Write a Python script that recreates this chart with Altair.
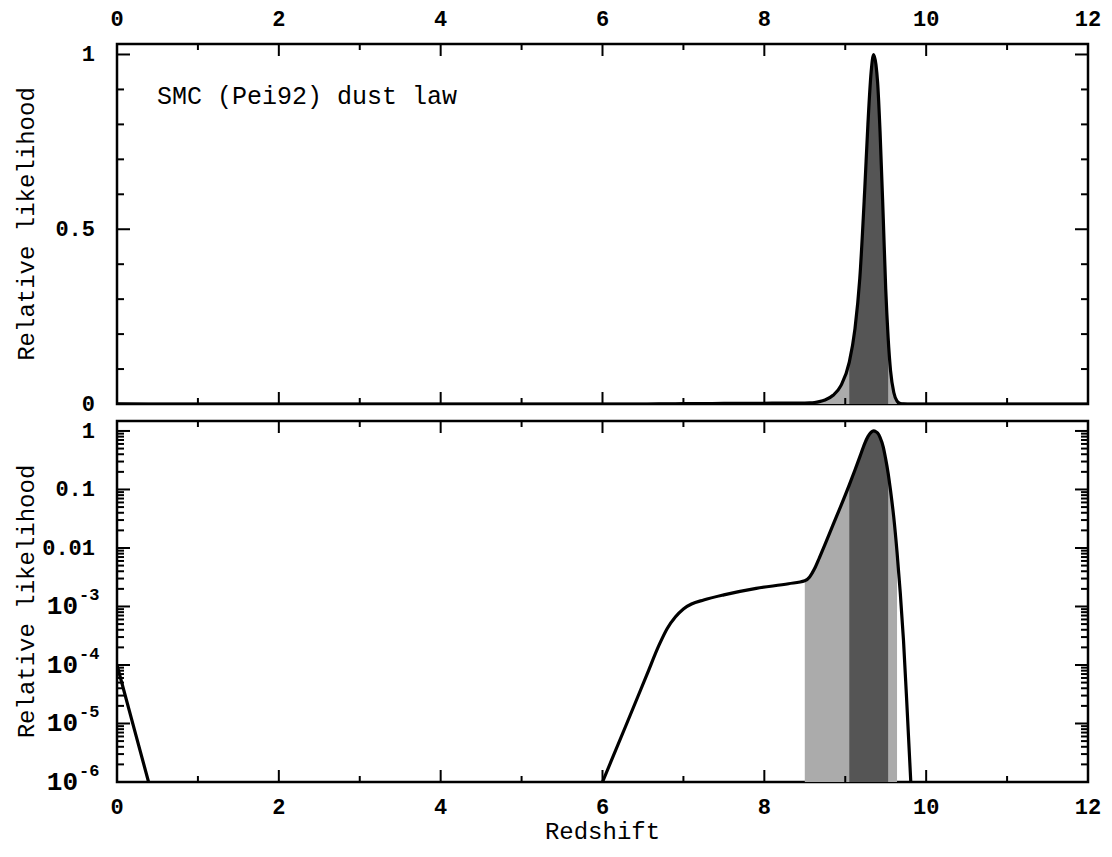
import altair as alt
import pandas as pd

# ---------------- data ----------------
z_vals = [0.00, 0.39, 0.975, 2.00, 4.00, 5.70, 6.00, 6.30, 6.55, 6.70,
          6.80, 6.90, 7.00, 7.10, 7.25, 7.50, 7.90, 8.30, 8.50, 8.56,
          8.62, 8.68, 8.75, 8.85, 8.95, 9.05, 9.12, 9.18, 9.24, 9.28,
          9.32, 9.35, 9.38, 9.40, 9.43, 9.47, 9.50, 9.53, 9.56, 9.60,
          9.64, 9.68, 9.72, 9.77, 9.81, 9.88, 10.00, 12.00]
L_vals = [1.0e-4, 1.0e-6, 1.0e-9, 1.0e-9, 1.0e-9, 1.0e-7, 1.0e-6, 1.0e-5, 6.9e-5, 2.2e-4,
          4.2e-4, 6.6e-4, 9.1e-4, 1.1e-3, 1.29e-3, 1.58e-3, 2.04e-3, 2.45e-3, 2.75e-3, 3.2e-3,
          4.4e-3, 6.8e-3, 0.0115, 0.025, 0.054, 0.12, 0.215, 0.36, 0.61, 0.80,
          0.95, 1.00, 0.97, 0.92, 0.78, 0.53, 0.33, 0.19, 0.095, 0.033,
          0.0085, 1.7e-3, 2.6e-4, 1.26e-5, 1.0e-6, 1.0e-8, 1.0e-9, 1.0e-9]

light_band = [8.50, 9.64]
dark_band = [9.05, 9.53]

x_major = [0, 2, 4, 6, 8, 10, 12]
x_major_labels = ["0", "2", "4", "6", "8", "10", "12"]
x_minor = [1, 3, 5, 7, 9, 11]

lin_major = [0, 0.5, 1]
lin_major_labels = ["0", "0.5", "1"]
lin_minor = [0.1, 0.2, 0.3, 0.4, 0.6, 0.7, 0.8, 0.9]

log_major = [1, 0.1, 0.01, 1e-3, 1e-4, 1e-5, 1e-6]
log_plain_vals = [1, 0.1, 0.01]
log_plain_labels = ["1", "0.1", "0.01"]
log_exp_vals = [1e-3, 1e-4, 1e-5, 1e-6]
log_exp_labels = ["-3", "-4", "-5", "-6"]
log_minor_mant = [2, 3, 4, 5, 6, 7, 8, 9]
log_minor_exp = [-6, -5, -4, -3, -2, -1]
log_minor = [m * 10.0 ** e for e in log_minor_exp for m in log_minor_mant]

Y_TITLE = "Relative likelihood"
X_TITLE = "Redshift"
NOTE = "SMC (Pei92) dust law"

# ---------------- style ----------------
FONT = "Liberation Mono"
LIGHT = "#ababab"
DARK = "#555555"
W = 971
H1 = 360
H2 = 361

curve = pd.DataFrame({"z": z_vals, "L": L_vals})

xs = alt.Scale(domain=[0, 12], nice=False, zero=False)
ys_lin = alt.Scale(domain=[0, 1.03], nice=False, zero=False)
ys_log = alt.Scale(type="log", domain=[1e-6, 1.48], nice=False)


def curve_layers(ys, H):
    base = alt.Chart(curve)
    X = alt.X("z:Q", scale=xs, axis=None)
    Y = alt.Y("L:Q", scale=ys, axis=None, stack=None)
    light = base.transform_filter(
        f"datum.z >= {light_band[0]} && datum.z <= {light_band[1]}"
    ).mark_area(color=LIGHT, interpolate="monotone", clip=True).encode(
        x=X, y=Y, y2=alt.value(H))
    dark = base.transform_filter(
        f"datum.z >= {dark_band[0]} && datum.z <= {dark_band[1]}"
    ).mark_area(color=DARK, interpolate="monotone", clip=True).encode(
        x=X, y=Y, y2=alt.value(H))
    line = base.mark_line(color="black", strokeWidth=3.2, interpolate="monotone",
                          clip=True).encode(x=X, y=Y)
    return [light, dark, line]


def x_ticks(vals, length, H):
    d = pd.DataFrame({"v": vals})
    X = alt.X("v:Q", scale=xs, axis=None)
    b = alt.Chart(d).mark_rule(color="black", strokeWidth=2).encode(
        x=X, y=alt.value(H), y2=alt.value(H - length))
    t = alt.Chart(d).mark_rule(color="black", strokeWidth=2).encode(
        x=X, y=alt.value(0), y2=alt.value(length))
    return [b, t]


def y_ticks(vals, length, ys):
    d = pd.DataFrame({"v": vals})
    Y = alt.Y("v:Q", scale=ys, axis=None)
    l = alt.Chart(d).mark_rule(color="black", strokeWidth=2).encode(
        y=Y, x=alt.value(0), x2=alt.value(length))
    r = alt.Chart(d).mark_rule(color="black", strokeWidth=2).encode(
        y=Y, x=alt.value(W), x2=alt.value(W - length))
    return [l, r]


def x_labels(ypix):
    d = pd.DataFrame({"v": x_major, "t": x_major_labels})
    return alt.Chart(d).mark_text(font=FONT, fontSize=22, fontWeight="bold",
                                  align="center", baseline="alphabetic").encode(
        x=alt.X("v:Q", scale=xs, axis=None), y=alt.value(ypix), text="t:N")


def y_title(H):
    d = pd.DataFrame({"t": [Y_TITLE]})
    return alt.Chart(d).mark_text(font=FONT, fontSize=24, angle=270,
                                  align="center", baseline="middle").encode(
        x=alt.value(-90), y=alt.value(H / 2), text="t:N")


# ---------------- top panel (linear) ----------------
top_lab = alt.Chart(pd.DataFrame({"v": lin_major, "t": lin_major_labels})).mark_text(
    font=FONT, fontSize=22, fontWeight="bold", align="right", baseline="middle").encode(
    y=alt.Y("v:Q", scale=ys_lin, axis=None), x=alt.value(-22), text="t:N")
note = alt.Chart(pd.DataFrame({"t": [NOTE]})).mark_text(
    font=FONT, fontSize=25, align="left", baseline="alphabetic").encode(
    x=alt.value(40), y=alt.value(60), text="t:N")

top_layers = (curve_layers(ys_lin, H1)
              + x_ticks(x_major, 12, H1) + x_ticks(x_minor, 6, H1)
              + y_ticks(lin_major, 13, ys_lin) + y_ticks(lin_minor, 7, ys_lin)
              + [top_lab, x_labels(-18), y_title(H1), note])
top = alt.layer(*top_layers).properties(width=W, height=H1)

# ---------------- bottom panel (log) ----------------
plain_lab = alt.Chart(pd.DataFrame({"v": log_plain_vals, "t": log_plain_labels})).mark_text(
    font=FONT, fontSize=22, fontWeight="bold", align="right", baseline="middle").encode(
    y=alt.Y("v:Q", scale=ys_log, axis=None), x=alt.value(-22), text="t:N")
exp_df = pd.DataFrame({"v": log_exp_vals, "t": log_exp_labels, "b": ["10"] * len(log_exp_vals)})
base_lab = alt.Chart(exp_df).mark_text(
    font=FONT, fontSize=26, fontWeight="bold", align="right", baseline="middle").encode(
    y=alt.Y("v:Q", scale=ys_log, axis=None), x=alt.value(-39), text="b:N")
exp_lab = alt.Chart(exp_df).mark_text(
    font=FONT, fontSize=17, fontWeight="bold", align="left", baseline="middle", dy=-11).encode(
    y=alt.Y("v:Q", scale=ys_log, axis=None), x=alt.value(-38), text="t:N")
xtitle = alt.Chart(pd.DataFrame({"t": [X_TITLE]})).mark_text(
    font=FONT, fontSize=24, align="center", baseline="alphabetic").encode(
    x=alt.value(W / 2), y=alt.value(H2 + 57), text="t:N")

bot_layers = (curve_layers(ys_log, H2)
              + x_ticks(x_major, 12, H2) + x_ticks(x_minor, 6, H2)
              + y_ticks(log_major, 13, ys_log) + y_ticks(log_minor, 7, ys_log)
              + [plain_lab, base_lab, exp_lab, x_labels(H2 + 32), y_title(H2), xtitle])
bottom = alt.layer(*bot_layers).properties(width=W, height=H2)

chart = alt.vconcat(top, bottom, spacing=17, bounds="flush").properties(
    padding={"left": 13, "top": 6, "right": 5, "bottom": 5},
    background="white",
).configure_view(stroke="black", strokeWidth=2.5)

chart.save("out.html", embed_options={"renderer": "svg", "actions": False})
